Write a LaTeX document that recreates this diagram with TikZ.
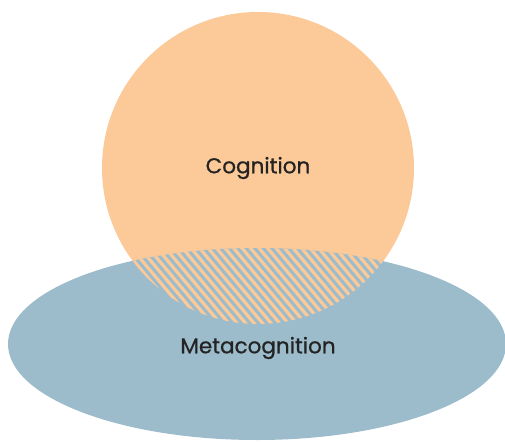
\documentclass[tikz,border=0pt]{standalone}
\usepackage{fontspec}
\setmainfont{Poppins}
\definecolor{cogorange}{HTML}{FCC998}
\definecolor{metablue}{HTML}{9CBBCB}
\definecolor{txt}{HTML}{232323}
\begin{document}
\begin{tikzpicture}[x=1pt,y=1pt,
  label/.style={text=txt,font=\fontsize{21.5}{25}\selectfont\addfontfeature{FakeBold=0.8}}]
\useasboundingbox (0,0) rectangle (505,442);
\fill[cogorange] (258,274) circle (156);
\fill[metablue] (257,98) ellipse (249 and 96);
\begin{scope}
  \clip (258,274) circle (156);
  \clip (257,98) ellipse (249 and 96);
  \foreach \i in {-40,...,60} {
    \draw[cogorange,line width=3.2pt] ({\i*8.5},300) -- ++(-50:260);
  }
\end{scope}
\node[label] (cog) at (258,274) {Cognition};
\node[label] (meta) at (258,94) {Metacognition};
\end{tikzpicture}
\end{document}
